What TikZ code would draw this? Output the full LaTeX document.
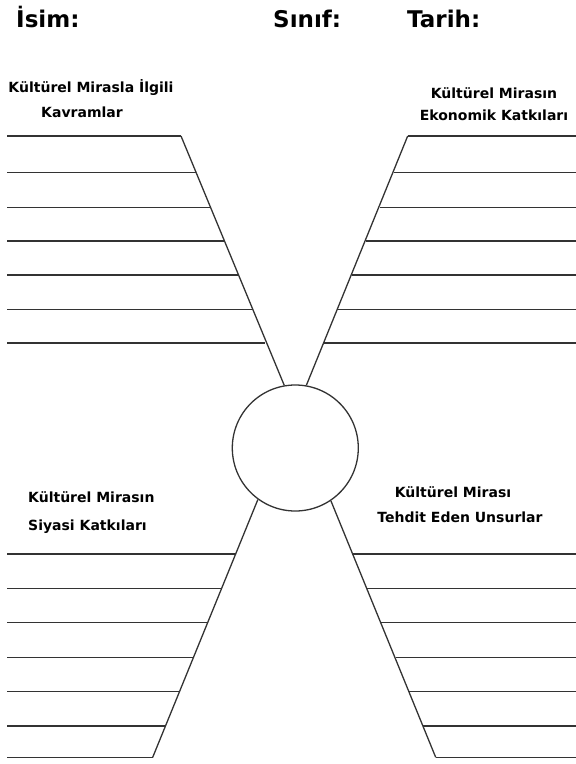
\documentclass[tikz,border=0pt]{standalone}
\usepackage{fontspec}
\setmainfont{DejaVu Sans}
\usepackage{tikz}
\usetikzlibrary{calc}

\begin{document}
\begin{tikzpicture}[x=1pt,y=-1pt,
    rule/.style={line width=1.3pt, black!80},
    head/.style={font=\fontsize{23}{26}\selectfont\bfseries, inner sep=0pt, anchor=base west},
    lbl/.style={font=\fontsize{14}{16}\selectfont\bfseries, inner sep=0pt, anchor=base}]
  \useasboundingbox (0,0) rectangle (576,764);
  % header
  \node[head] (isim) at (16,27) {İsim:};
  \node[head] (sinif) at (273,27) {Sınıf:};
  \node[head] (tarih) at (407,27) {Tarih:};
  % centre circle
  \node[draw, circle, line width=1.3pt, black!80, minimum size=126pt, inner sep=0pt] (hub) at (295.3,448) {};
  % top left
  \node[lbl] (tlA) at (91,92) {Kültürel Mirasla İlgili};
  \node[lbl] (tlB) at (82,117) {Kavramlar};
  \draw[rule] (181,136) -- (hub.100.8);
  \foreach \y/\x in {136/181, 172.7/195.8, 207.3/209.8, 241/223.5, 275/237.5, 309.3/251.5, 343/265.3}
    \draw[rule] (7,\y) -- (\x,\y);
  % top right
  \node[lbl] (trA) at (494,98) {Kültürel Mirasın};
  \node[lbl] (trB) at (494,120) {Ekonomik Katkıları};
  \draw[rule] (407.7,136) -- (hub.80.4);
  \foreach \y/\x in {136/407.7, 172.7/393.5, 207.3/379.5, 241/365.5, 275/351.5, 309.3/337.5, 343/323.5}
    \draw[rule] (\x,\y) -- (576,\y);
  % bottom left
  \node[lbl, anchor=base west] (blA) at (28,502) {Kültürel Mirasın};
  \node[lbl, anchor=base west] (blB) at (28,530) {Siyasi Katkıları};
  \draw[rule] (hub.234.3) -- (152.7,757.3);
  \foreach \y/\x in {554/235.7, 588.3/221.7, 622.7/208, 657.7/193.6, 691.7/180, 726/165.8, 757.3/152.7}
    \draw[rule] (7,\y) -- (\x,\y);
  % bottom right
  \node[lbl] (brA) at (453,497) {Kültürel Mirası};
  \node[lbl] (brB) at (460,522) {Tehdit Eden Unsurlar};
  \draw[rule] (hub.304.2) -- (435.7,757.3);
  \foreach \y/\x in {554/353.3, 588.3/367.3, 622.7/381.3, 657.7/395.5, 691.7/409.3, 726/423.3, 757.3/435.7}
    \draw[rule] (\x,\y) -- (576,\y);
\end{tikzpicture}
\end{document}
